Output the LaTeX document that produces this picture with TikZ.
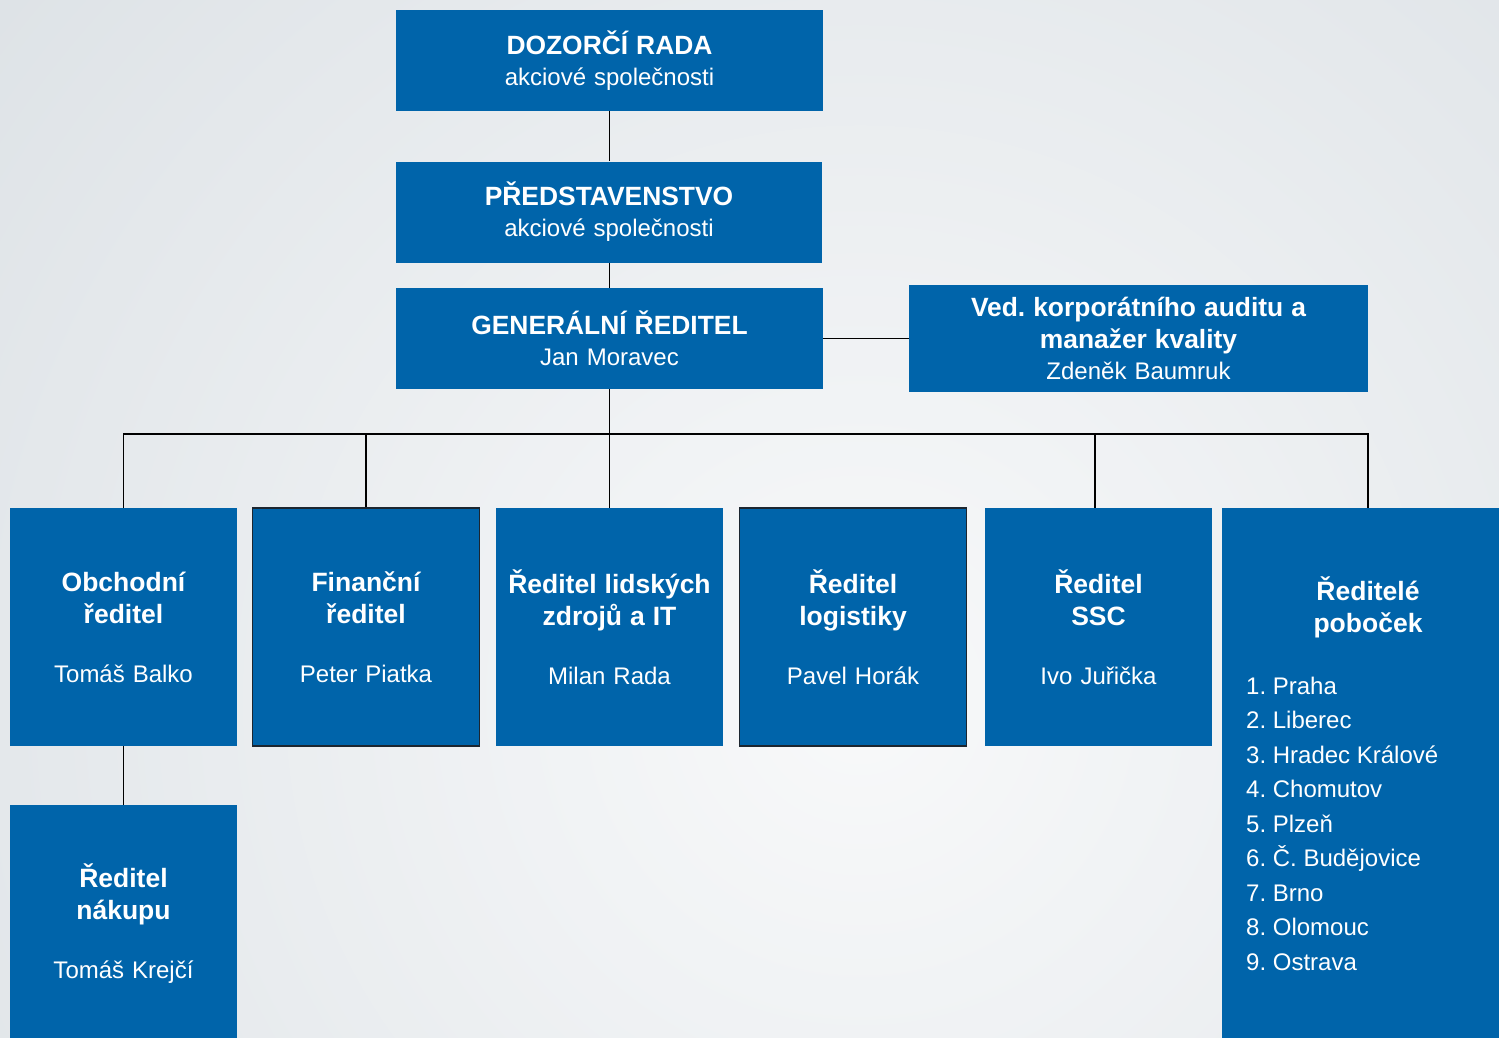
\documentclass[tikz,border=0pt]{standalone}
\usepackage{fontspec}
\setmainfont{Liberation Sans}
\frenchspacing
\definecolor{boxblue}{HTML}{0064AA}
\definecolor{bgouter}{HTML}{DDE2E6}
\definecolor{bginner}{HTML}{F8F9FA}
\definecolor{edgedark}{HTML}{1C2630}
\begin{document}
\begin{tikzpicture}[x=1pt,y=-1pt,
  box/.style={fill=boxblue, inner sep=0pt, text=white, align=center},
  topbox/.style={box, minimum width=427pt, minimum height=101pt, text width=420pt,
     font=\fontsize{24}{31}\selectfont},
  rowbox/.style={box, minimum width=227pt, minimum height=238pt, text width=224pt,
     font=\fontsize{24}{32}\selectfont},
  framed/.style={draw=edgedark, line width=1.2pt},
  conn/.style={draw=black, line width=1.8pt}
]
\newcommand\hd[1]{{\fontsize{26.4}{31}\selectfont\bfseries #1}}
\newcommand\rh[1]{{\fontsize{26.5}{32}\selectfont\bfseries #1}}
\useasboundingbox (0,0) rectangle (1499,1038);
\begin{scope}
\clip (0,0) rectangle (1499,1038);
\fill[bgouter] (0,0) rectangle (1499,1038);
\shade[inner color=bginner, outer color=bgouter] (860,700) circle (1150);

% top chain
\node[topbox] (dr) at (609.5,60.5) {\hd{DOZORČÍ RADA}\\akciové společnosti};
\node[topbox, minimum width=426pt] (pr) at (609,212) {\hd{PŘEDSTAVENSTVO}\\akciové společnosti};
\node[topbox] (gr) at (609.5,338.5) {\hd{GENERÁLNÍ ŘEDITEL}\\Jan Moravec};
\node[box, minimum width=459pt, minimum height=107pt, text width=450pt,
      font=\fontsize{24}{31.5}\selectfont] (aud) at (1138.5,338.5)
      {\hd{Ved. korporátního auditu a\\ manažer kvality}\\Zdeněk Baumruk};

% row
\node[rowbox] (obch) at (123.5,627) {\rh{Obchodní\\ ředitel}\\[27pt]Tomáš Balko};
\node[rowbox, framed] (fin) at (366,627) {\rh{Finanční\\ ředitel}\\[27pt]Peter Piatka};
\node[rowbox] (lid) at (609.5,627) {\rh{Ředitel lidských\\ zdrojů a IT}\\[27pt]Milan Rada};
\node[rowbox, framed] (log) at (853,627) {\rh{Ředitel\\ logistiky}\\[27pt]Pavel Horák};
\node[rowbox] (ssc) at (1098.5,627) {\rh{Ředitel\\ SSC}\\[27pt]Ivo Juřička};
\node[rowbox] (nak) at (123.5,924) {\rh{Ředitel\\ nákupu}\\[27pt]Tomáš Krejčí};

\node[box, minimum width=292pt, minimum height=560pt, anchor=north west] (pob) at (1222,508) {};
\node[text=white, align=center, inner sep=0pt, anchor=base, font=\fontsize{26.5}{32}\selectfont\bfseries]
   (pobt) at (1368,632) {Ředitelé\\ poboček};
\node[text=white, align=left, inner sep=0pt, anchor=base west, font=\fontsize{24}{34.5}\selectfont]
   (pobl) at (1246,970) {1. Praha\\2. Liberec\\3. Hradec Králové\\4. Chomutov\\5. Plzeň\\6. Č. Budějovice\\7. Brno\\8. Olomouc\\9. Ostrava};

% connectors
\coordinate (busL) at (123.5,434);
\coordinate (busR) at (1368,434);
\coordinate (busS) at (1095,434);
\draw[conn] (dr.south) -- (dr.south |- pr.north);
\draw[conn] (pr.north |- pr.south) ++(0.5,0) coordinate (prs) -- (prs |- gr.north);
\draw[conn] (gr.east) -- (aud.west);
\draw[conn] (gr.south) -- (lid.north);
\draw[conn] (obch.north) -- (busL) -- (busR) -- (busR |- pob.north);
\draw[conn] (fin.north) -- (fin.north |- busL);
\draw[conn] (busS) -- (busS |- ssc.north);
\draw[conn] (obch.south) -- (nak.north);
\end{scope}
\end{tikzpicture}
\end{document}
